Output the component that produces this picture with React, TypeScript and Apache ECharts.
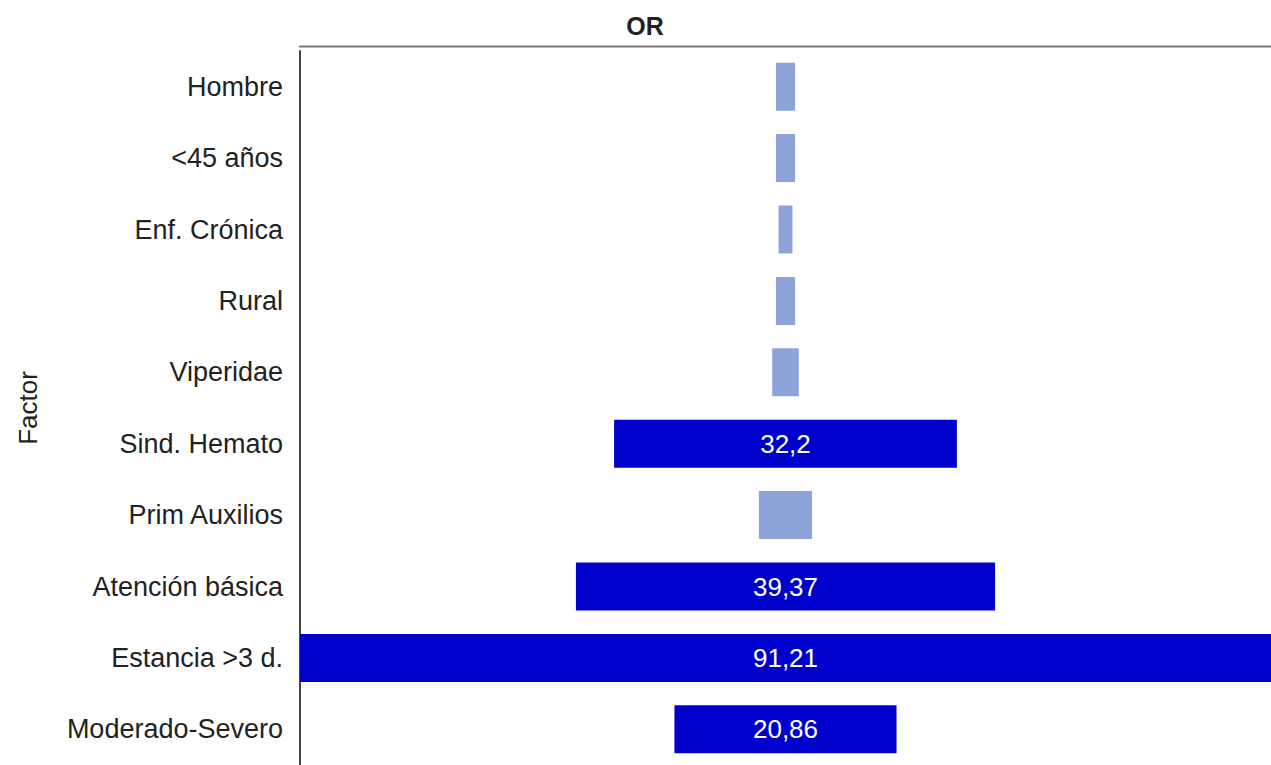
import React, { useEffect, useRef } from "react";
import * as echarts from "echarts";

const categories = [
  "Hombre",
  "<45 años",
  "Enf. Crónica",
  "Rural",
  "Viperidae",
  "Sind. Hemato",
  "Prim Auxilios",
  "Atención básica",
  "Estancia >3 d.",
  "Moderado-Severo",
];
const orValues = [1.8, 1.8, 1.3, 1.8, 2.5, 32.2, 5.0, 39.37, 91.21, 20.86];
const significant = [false, false, false, false, false, true, false, true, true, true];
const maxValue = 91.21;

const DARK = "#0000cc";
const LIGHT = "#8ea3d8";

export default function App() {
  const ref = useRef<HTMLDivElement>(null);
  useEffect(() => {
    if (!ref.current) return;
    const chart = echarts.init(ref.current, undefined, { renderer: "svg" });
    const font = "Liberation Sans, Arial, sans-serif";
    chart.setOption({
      animation: false,
      backgroundColor: "#ffffff",
      title: {
        text: "OR",
        left: 640,
        top: 8,
        textAlign: "center",
        textStyle: { fontSize: 25, fontWeight: "bold", color: "#222", fontFamily: font },
      },
      grid: { left: 300, right: 0, top: 51, bottom: 0, containLabel: false },
      xAxis: {
        type: "value",
        min: 0,
        max: maxValue,
        show: false,
      },
      yAxis: {
        type: "category",
        data: categories,
        inverse: true,
        name: "Factor",
        nameLocation: "middle",
        nameGap: 259,
        nameRotate: 90,
        nameTextStyle: { fontSize: 26, color: "#222", fontFamily: font },
        axisLine: { show: true, lineStyle: { color: "#444", width: 2 } },
        axisTick: { show: false },
        splitLine: { show: false },
        axisLabel: { fontSize: 27, color: "#222", margin: 17, fontFamily: font },
      },
      graphic: [
        {
          type: "line",
          shape: { x1: 299, y1: 46.5, x2: 1271, y2: 46.5 },
          style: { stroke: "#777", lineWidth: 2 },
        },
      ],
      series: [
        {
          type: "bar",
          stack: "or",
          barWidth: 48,
          silent: true,
          itemStyle: { color: "transparent" },
          data: orValues.map((v) => (maxValue - v) / 2),
        },
        {
          type: "bar",
          stack: "or",
          barWidth: 48,
          data: orValues.map((v, i) => ({
            value: v,
            itemStyle: { color: significant[i] ? DARK : LIGHT },
            label: {
              show: significant[i],
              position: "inside",
              color: "#ffffff",
              fontSize: 26,
              fontFamily: font,
              formatter: () => String(v).replace(".", ","),
            },
          })),
        },
      ],
    });
    return () => chart.dispose();
  }, []);
  return (
    <div
      ref={ref}
      style={{ position: "absolute", left: 0, top: 0, width: 1271, height: 765 }}
    />
  );
}
